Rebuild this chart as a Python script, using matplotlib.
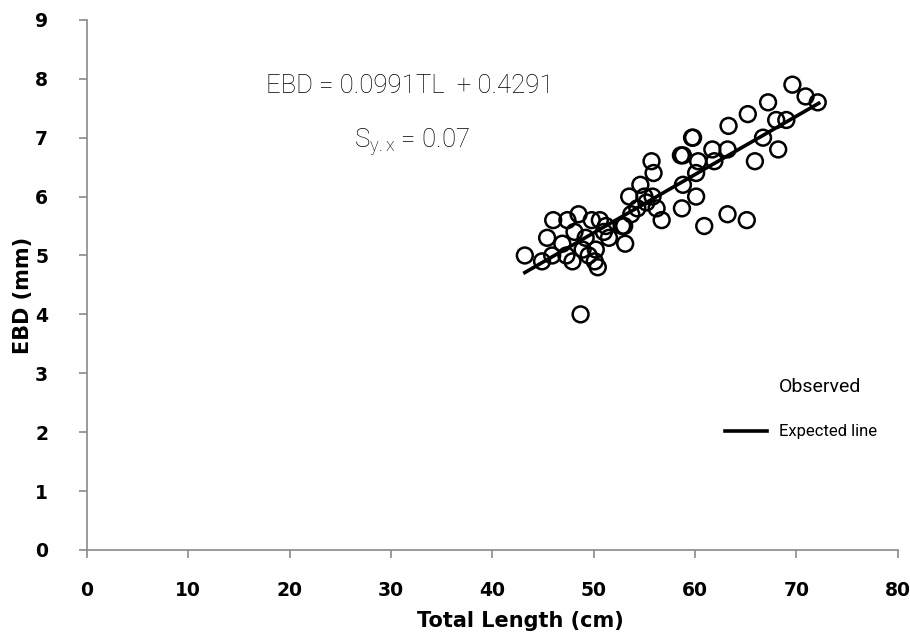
import matplotlib
matplotlib.use("Agg")
import matplotlib.pyplot as plt
from matplotlib.lines import Line2D
import numpy as np

total_length = [43.2, 44.9, 45.4, 45.9, 46.0, 46.9, 47.4, 47.3, 47.9, 48.1,
                48.5, 48.9, 48.7, 49.2, 49.8, 49.5, 50.1, 50.4, 50.2, 50.6,
                51.0, 51.2, 51.5, 52.8, 53.1, 53.0, 53.5, 53.7, 54.6, 54.3,
                55.2, 55.0, 55.8, 55.7, 55.9, 56.2, 56.7, 58.6, 58.8, 58.8,
                58.7, 59.7, 59.8, 60.1, 60.3, 60.1, 60.9, 61.7, 61.9, 63.2,
                63.3, 63.2, 65.2, 65.1, 65.9, 66.7, 67.2, 68.0, 68.2, 69.0,
                69.6, 70.9, 72.1]
ebd = [5.0, 4.9, 5.3, 5.0, 5.6, 5.2, 5.6, 5.0, 4.9, 5.4,
       5.7, 5.1, 4.0, 5.3, 5.6, 5.0, 4.9, 4.8, 5.1, 5.6,
       5.4, 5.5, 5.3, 5.5, 5.2, 5.5, 6.0, 5.7, 6.2, 5.8,
       5.9, 6.0, 6.0, 6.6, 6.4, 5.8, 5.6, 6.7, 6.7, 6.2,
       5.8, 7.0, 7.0, 6.4, 6.6, 6.0, 5.5, 6.8, 6.6, 6.8,
       7.2, 5.7, 7.4, 5.6, 6.6, 7.0, 7.6, 7.3, 6.8, 7.3,
       7.9, 7.7, 7.6]
slope = 0.0991
intercept = 0.4291
line_x = [43.2, 72.2]
x_ticks = [0, 10, 20, 30, 40, 50, 60, 70, 80]
y_ticks = [0, 1, 2, 3, 4, 5, 6, 7, 8, 9]

plt.rcParams['mathtext.default'] = 'regular'
fig = plt.figure(figsize=(9.10, 6.41), dpi=100)
ax = fig.add_axes([0.0956, 0.142, 0.891, 0.827])

ax.scatter(total_length, ebd, s=130, facecolors='none', edgecolors='black',
           linewidths=1.8, zorder=3)
lx = np.array(line_x)
ax.plot(lx, slope * lx + intercept, color='black', lw=2.6, zorder=4)

ax.set_xlim(0, 80)
ax.set_ylim(0, 9)
ax.set_xticks(x_ticks)
ax.set_yticks(y_ticks)
for s in ['top', 'right']:
    ax.spines[s].set_visible(False)
for s in ['left', 'bottom']:
    ax.spines[s].set_color('#8a8a8a')
    ax.spines[s].set_linewidth(1.2)
ax.tick_params(axis='both', direction='out', length=6, width=1.2, color='#8a8a8a')
ax.tick_params(axis='y', pad=22)
ax.tick_params(axis='x', pad=16)
for lab in ax.get_xticklabels() + ax.get_yticklabels():
    lab.set_fontfamily('DejaVu Sans')
    lab.set_fontweight('bold')
    lab.set_fontsize(13.5)

ax.set_xlabel('Total Length (cm)', fontfamily='DejaVu Sans',
              fontweight='bold', fontsize=15)
ax.xaxis.set_label_coords(0.534, -0.115)
ax.set_ylabel('EBD (mm)', fontfamily='DejaVu Sans',
              fontweight='bold', fontsize=15)
ax.yaxis.set_label_coords(-0.066, 0.48)

light = ['Roboto', 'DejaVu Sans']
fig.text(410 / 910, 1 - 86 / 641, 'EBD = 0.0991TL  + 0.4291', ha='center', va='center',
         fontfamily=light, fontweight='light', fontsize=18.5)
fig.text(412 / 910, 1 - 142 / 641, r'S$_{y.x}$ = 0.07', ha='center', va='center',
         fontfamily=light, fontweight='light', fontsize=18.5)

handles = [Line2D([], [], linestyle='none', marker=None),
           Line2D([], [], color='black', lw=2.6)]
leg = ax.legend(handles, ['Observed', 'Expected line'], loc='upper left',
                bbox_to_anchor=(710 / 910, 1 - 363 / 641), bbox_transform=fig.transFigure,
                frameon=False, handlelength=2.5, handletextpad=0.75, labelspacing=1.7,
                prop={'family': light, 'size': 12})
texts = leg.get_texts()
texts[0].set_fontsize(14)

fig.savefig('out.png', dpi=100)
